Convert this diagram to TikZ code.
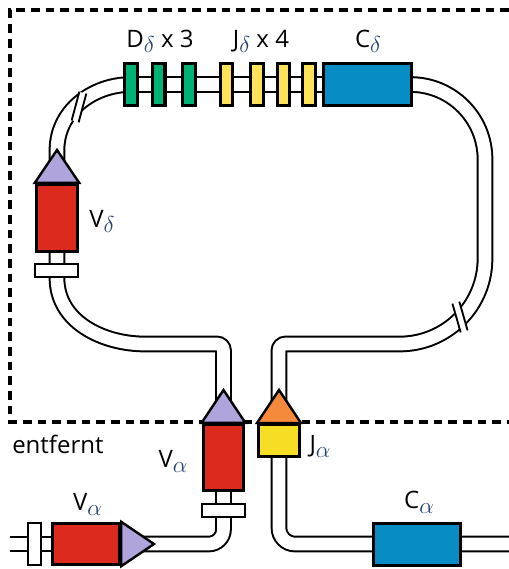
\documentclass[tikz,border=0pt]{standalone}
\usepackage{fontspec}
\setmainfont{Open Sans}
\usepackage{tikz}
\usepackage{xcolor}
\usetikzlibrary{positioning, backgrounds}

\definecolor{segred}{RGB}{220,42,30}
\definecolor{leadlila}{RGB}{176,164,220}
\definecolor{dgreen}{RGB}{0,178,118}
\definecolor{jdyellow}{RGB}{253,226,90}
\definecolor{jayellow}{RGB}{246,222,36}
\definecolor{cblue}{RGB}{8,140,196}
\definecolor{jorange}{RGB}{245,138,60}
\definecolor{subblue}{RGB}{35,65,115}

\newcommand{\gsub}[1]{\raisebox{-0.45ex}{\fontsize{16}{16}\selectfont$\textcolor{subblue}{#1}$}}

\begin{document}
\begin{tikzpicture}[
    x=0.75pt, y=-0.75pt,
    font=\fontsize{18}{21}\selectfont,
    seg/.style      ={draw, line width=2.3pt, inner sep=0pt, minimum height=31.5pt},
    dseg/.style     ={seg, fill=dgreen, minimum width=9.7pt},
    jseg/.style     ={seg, fill=jdyellow, minimum width=9.3pt},
    cseg/.style     ={seg, fill=cblue, minimum width=65.7pt},
    vseg/.style     ={seg, fill=segred},
    jaseg/.style    ={seg, fill=jayellow, minimum width=30.7pt, minimum height=24pt},
    rss/.style      ={draw, line width=1.8pt, fill=white, inner sep=0pt},
    leader/.style   ={draw, line width=1.8pt, fill=leadlila},
    leaderj/.style  ={draw, line width=1.8pt, fill=jorange},
    tube/.style     ={draw, line width=1.5pt, double=white, double distance=9.5pt},
    brk/.style      ={fill=white, inner sep=0pt, minimum width=5pt, minimum height=22pt},
    brkline/.style  ={line width=1.4pt},
    lbl/.style      ={inner sep=0pt, anchor=base},
    region/.style   ={line width=2.8pt, dash pattern=on 6.5pt off 4.5pt}
]
\useasboundingbox (0,0) rectangle (509,569);

% =================== removed region (dashed) ===================
\draw[region] (509,10) -- (10,10) -- (10,422) -- (509,422);

% =================== delta segments (top row) ===================
\node[dseg] (d1) at (131,84.5) {};
\node[dseg] (d2) at (158.5,84.5) {};
\node[dseg] (d3) at (189,84.5) {};
\node[jseg] (j1) at (226.5,84.5) {};
\node[jseg] (j2) at (257,84.5) {};
\node[jseg] (j3) at (283.5,84.5) {};
\node[jseg] (j4) at (309,84.5) {};
\node[cseg] (cd) at (367.5,84.5) {};

% =================== V delta (left column) ===================
\node[vseg, minimum width=31pt, minimum height=50.5pt] (vd) at (57,218) {};
\node[rss, minimum width=32.25pt, minimum height=9.75pt] (vdr) at (56.5,270.5) {};
\coordinate (vdtip) at (57,150);
\draw[leader] (vd.north west) -- (vd.north east) -- (vdtip) -- cycle;

% =================== V alpha / J alpha (centre) ===================
\node[vseg, minimum width=30.5pt, minimum height=49.75pt] (va) at (223.5,457.5) {};
\node[rss, minimum width=32.25pt, minimum height=9.75pt] (var) at (223.5,510.5) {};
\coordinate (vatip) at (223.5,390);
\draw[leader] (va.north west) -- (va.north east) -- (vatip) -- cycle;

\node[jaseg] (ja) at (279,440.5) {};
\coordinate (jatip) at (279,390);
\draw[leaderj] (ja.north west) -- (ja.north east) -- (jatip) -- cycle;

% =================== V alpha / C alpha (bottom row) ===================
\node[vseg, minimum width=50.5pt, minimum height=31pt] (vh) at (86,544) {};
\node[rss, minimum width=9.75pt, minimum height=31.5pt] (vhr) at (34.5,544) {};
\coordinate (vhtip) at (154,544);
\draw[leader] (vh.north east) -- (vh.south east) -- (vhtip) -- cycle;

\node[cseg, minimum width=65.5pt] (ca) at (417,544.5) {};

% --- helper points ---
\coordinate (ybend) at (250,344);
\coordinate (ybot) at (250,544);
\coordinate (lcurve) at (145,344);
\coordinate (lend) at (10,544);
\coordinate (rend) at (509,544);

% --- tubes (behind everything) ---
\begin{scope}[on background layer]
% delta loop: V delta up over the top, down the right side to J alpha
\draw[tube] (vd.center) -- (vdtip) to[out=90, in=180] (d1.center)
    -- (cd.center) [rounded corners=56pt] -- (485,84.5) [rounded corners=64pt]
    -- (485,344) [rounded corners=5pt] -- (ja.center |- ybend) -- (ja.center);

% V delta down to V alpha
\draw[tube] (vd.center) -- (vd.center |- vdr.south) to[out=-90, in=180] (lcurve)
    [rounded corners=5pt] -- (va.center |- ybend) -- (va.center);

% V alpha down and left to the lower V alpha
\draw[tube] (va.center) [rounded corners=11pt] -- (va.center |- ybot) -- (vh.center);

% J alpha down and right through C alpha
\draw[tube] (ja.center) [rounded corners=12pt] -- (ja.center |- ybot) -- (rend);

% left stub
\draw[tube] (lend) -- (vh.center);
\end{scope}

% --- breaks in the tube ---
\node[brk, rotate=-15] (brkL) at (79,107) {};
\draw[brkline] (brkL.north west) -- (brkL.south west)
    (brkL.north east) -- (brkL.south east);
\node[brk, rotate=16] (brkR) at (460,317) {};
\draw[brkline] (brkR.north west) -- (brkR.south west)
    (brkR.north east) -- (brkR.south east);

% --- labels ---
\node[lbl] (ldd) at (160,47) {D\gsub{\delta} x 3};
\node[lbl] (ljd) at (261,47) {J\gsub{\delta} x 4};
\node[lbl] (lcd) at (368,47) {C\gsub{\delta}};
\node[lbl] (lvd) at (102,227) {V\gsub{\delta}};
\node[lbl] (lva) at (173,467) {V\gsub{\alpha}};
\node[lbl] (lvh) at (87.5,510) {V\gsub{\alpha}};
\node[lbl] (lja) at (320,452) {J\gsub{\alpha}};
\node[lbl] (lca) at (419,508) {C\gsub{\alpha}};
\node[lbl, anchor=base west] (lrm) at (12,453) {entfernt};

\end{tikzpicture}
\end{document}
